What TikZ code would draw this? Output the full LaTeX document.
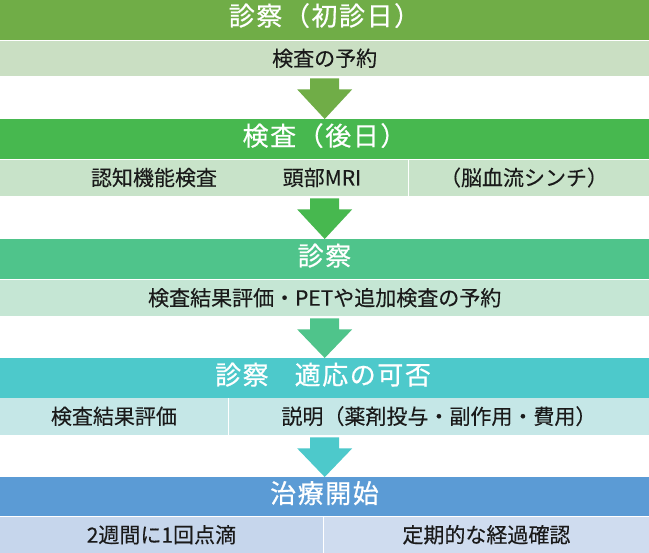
\documentclass[tikz,border=0pt]{standalone}
\usepackage{fontspec}
\setmainfont{Noto Sans CJK JP}
\newfontfamily\hdrfont[LetterSpace=6,FakeBold=0.6]{Noto Sans CJK JP}
\newfontfamily\subfont[FakeBold=0.25]{Noto Sans CJK JP}
\usetikzlibrary{calc}
\definecolor{hA}{HTML}{70AD47}
\definecolor{sA}{HTML}{CADFC3}
\definecolor{hB}{HTML}{47B84F}
\definecolor{sB}{HTML}{C8E3C9}
\definecolor{hC}{HTML}{4FC48B}
\definecolor{sC}{HTML}{C5E6D4}
\definecolor{hD}{HTML}{4DC9CB}
\definecolor{sD}{HTML}{C5E7E7}
\definecolor{hE}{HTML}{5B9BD5}
\definecolor{sE}{HTML}{C6D6EC}
\definecolor{txt}{HTML}{1A1A1A}
\begin{document}
\begin{tikzpicture}[x=1pt,y=-1pt,
  hdr/.style={anchor=north west, minimum height=40pt, minimum width=649pt, inner sep=0pt},
  htext/.style={inner sep=0pt, text=white, font=\hdrfont\fontsize{26}{26}\selectfont, text height=22pt, text depth=4pt},
  subcell/.style={anchor=north west, minimum height=36pt, inner sep=0pt},
  subtext/.style={inner sep=0pt, text=txt, font=\subfont\fontsize{21}{21}\selectfont, text height=18pt, text depth=3pt},
]
\useasboundingbox (0,0) rectangle (649,553);
\fill[white] (0,0) rectangle (649,553);

% band 1
\node[hdr, fill=hA] (h1) at (0,0) {};
\node[htext] (t1) at (324.5,16.5) {診察（初診日）};
\node[subcell, fill=sA, minimum width=649pt, minimum height=35pt] (s1) at (0,41) {};
\node[subtext] (t1s) at (s1.center) {検査の予約};

% band 2
\node[hdr, fill=hB] (h2) at (0,119) {};
\node[htext] (t2) at (324.5,136.5) {検査（後日）};
\node[subcell, fill=sB, minimum width=407.5pt] (s2a) at (0,160) {};
\node[subcell, fill=sB, minimum width=240.5pt] (s2b) at (408.5,160) {};
\node[subtext] (t2a) at (154,178) {認知機能検査};
\node[subtext] (t2b) at (322,178) {頭部MRI};
\node[subtext] (t2c) at (524,178) {（脳血流シンチ）};

% band 3
\node[hdr, fill=hC] (h3) at (0,239) {};
\node[htext] (t3) at (324.5,256.5) {診察};
\node[subcell, fill=sC, minimum width=649pt] (s3) at (0,280) {};
\node[subtext] (t3s) at (s3.center) {検査結果評価・PETや追加検査の予約};

% band 4
\node[hdr, fill=hD] (h4) at (0,358) {};
\node[htext] (t4) at (323,375.5) {診察\hspace{1em}適応の可否};
\node[subcell, fill=sD, minimum width=227.5pt, minimum height=37pt] (s4a) at (0,398) {};
\node[subcell, fill=sD, minimum width=420.5pt, minimum height=37pt] (s4b) at (228.5,398) {};
\node[subtext] (t4a) at (s4a.center) {検査結果評価};
\node[subtext] (t4b) at (s4b.center) {説明（薬剤投与・副作用・費用）};

% band 5
\node[hdr, fill=hE, minimum height=39pt] (h5) at (0,477) {};
\node[htext] (t5) at (324.5,494) {治療開始};
\node[subcell, fill=sE, minimum width=322.5pt] (s5a) at (0,517) {};
\node[subcell, fill=sE!85!white, minimum width=325.5pt] (s5b) at (323.5,517) {};
\node[subtext] (t5a) at (s5a.center) {2週間に1回点滴};
\node[subtext] (t5b) at (s5b.center) {定期的な経過確認};

% block arrows between bands
\newcommand{\blockarrow}[3]{%
  \fill[#3] let \p1=(#1), \p2=(#2) in
    (\x1-14.5pt,\y1-2pt) -- (\x1+14.5pt,\y1-2pt) -- (\x1+14.5pt,\y1-13pt)
    -- (\x1+27.5pt,\y1-13pt) -- (\x1,\y2) -- (\x1-27.5pt,\y1-13pt)
    -- (\x1-14.5pt,\y1-13pt) -- cycle;}
\blockarrow{s1.south}{h2.north}{hA}
\blockarrow{s2a.south east -| s1.south}{h3.north}{hB}
\blockarrow{s3.south}{h4.north}{hC}
\blockarrow{s4a.south east -| s3.south}{h5.north}{hD}
\end{tikzpicture}
\end{document}
